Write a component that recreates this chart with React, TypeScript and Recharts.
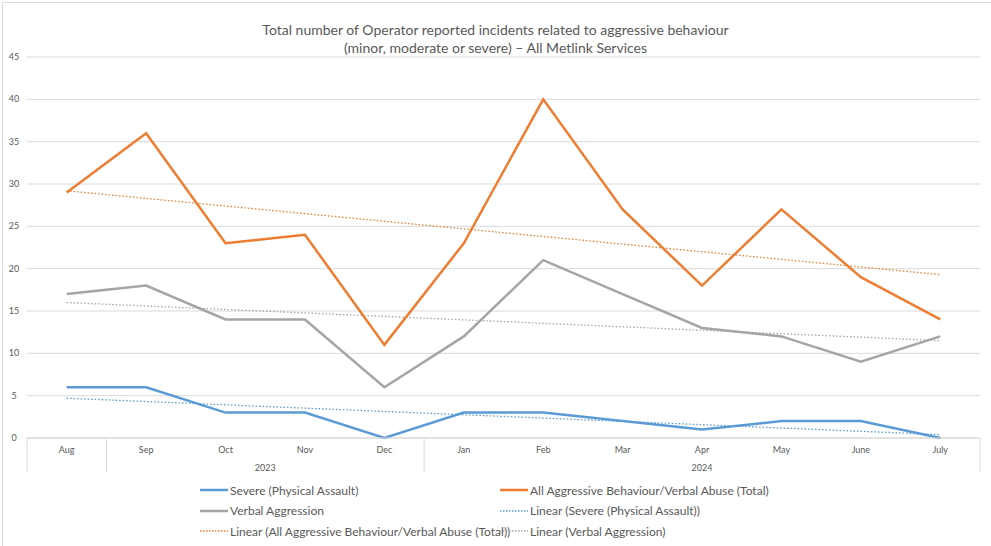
import React from 'react';
import { LineChart, Line, XAxis, YAxis, CartesianGrid, ReferenceLine } from 'recharts';

// Months and the year group each one sits under (Aug has no group label in the source)
const months = ['Aug', 'Sep', 'Oct', 'Nov', 'Dec', 'Jan', 'Feb', 'Mar', 'Apr', 'May', 'June', 'July'];
const years = ['', '2023', '2023', '2023', '2023', '2024', '2024', '2024', '2024', '2024', '2024', '2024'];

const severe = [6, 6, 3, 3, 0, 3, 3, 2, 1, 2, 2, 0];
const total = [29, 36, 23, 24, 11, 23, 40, 27, 18, 27, 19, 14];
const verbal = [17, 18, 14, 14, 6, 12, 21, 17, 13, 12, 9, 12];

// trend line ends [Aug, July]
const severeTrend = [4.7, 0.4];
const totalTrend = [29.2, 19.3];
const verbalTrend = [16.0, 11.5];

const yTicks = [0, 5, 10, 15, 20, 25, 30, 35, 40, 45];

const data = months.map((m, i) => ({
  month: m,
  year: years[i],
  severe: severe[i],
  total: total[i],
  verbal: verbal[i],
}));

const BLUE = '#5b9bd5';
const ORANGE = '#ed7d31';
const GRAY = '#a5a5a5';
const TEXT = '#595959';
const FONT = 'Lato, "Liberation Sans", sans-serif';

const PLOT_LEFT = 27;
const PLOT_RIGHT = 980;
const STEP = (PLOT_RIGHT - PLOT_LEFT) / months.length;

const legendItems = [
  { label: 'Severe (Physical Assault)', color: BLUE, dotted: false },
  { label: 'All Aggressive Behaviour/Verbal Abuse (Total)', color: ORANGE, dotted: false },
  { label: 'Verbal Aggression', color: GRAY, dotted: false },
  { label: 'Linear (Severe (Physical Assault))', color: BLUE, dotted: true },
  { label: 'Linear (All Aggressive Behaviour/Verbal Abuse (Total))', color: ORANGE, dotted: true },
  { label: 'Linear (Verbal Aggression)', color: GRAY, dotted: true },
];

const MonthTick = ({ x, y, payload, index }: any) => {
  const i = index ?? payload.index;
  const left = x - STEP / 2;
  const yr = years[i];
  const groupStart = yr !== '' && (i === 0 || years[i - 1] !== yr);
  let groupLen = 0;
  if (groupStart) {
    while (i + groupLen < years.length && years[i + groupLen] === yr) groupLen++;
  }
  const sep = i === 0 || years[i] !== years[i - 1];
  return (
    <g>
      <text x={x} y={y + 7} textAnchor="middle" fill={TEXT} fontSize={9} fontFamily={FONT}>
        {payload.value}
      </text>
      {sep && <line x1={left} x2={left} y1={y - 8} y2={y + 26} stroke="#d9d9d9" strokeWidth={1} />}
      {i === months.length - 1 && (
        <line x1={x + STEP / 2} x2={x + STEP / 2} y1={y - 8} y2={y + 26} stroke="#d9d9d9" strokeWidth={1} />
      )}
      {groupStart && (
        <text x={left + (groupLen * STEP) / 2} y={y + 25} textAnchor="middle" fill={TEXT} fontSize={9} fontFamily={FONT}>
          {yr}
        </text>
      )}
    </g>
  );
};

const ValueTick = ({ y, payload }: any) => (
  <text x={14} y={y + 3} textAnchor="middle" fill={TEXT} fontSize={9} fontFamily={FONT}>
    {payload.value}
  </text>
);

export default function App() {
  return (
    <div style={{ position: 'absolute', left: 0, top: 0, width: 991, height: 546, background: '#fff', overflow: 'hidden' }}>
      <div style={{ position: 'absolute', left: 2, top: 2, width: 1000, height: 600, border: '1px solid #d9d9d9' }} />
      <div
        style={{
          position: 'absolute',
          left: 0,
          top: 21,
          width: 991,
          textAlign: 'center',
          fontFamily: FONT,
          fontSize: 14,
          lineHeight: '18px',
          color: TEXT,
        }}
      >
        Total number of Operator reported incidents related to aggressive behaviour
        <br />
        (minor, moderate or severe) – All Metlink Services
      </div>
      <div style={{ position: 'absolute', left: 0, top: 0 }}>
        <LineChart width={991} height={546} data={data} margin={{ top: 57, right: 991 - PLOT_RIGHT, bottom: 68, left: 0 }}>
          <CartesianGrid vertical={false} stroke="#d9d9d9" />
          <XAxis
            dataKey="month"
            padding={{ left: STEP / 2, right: STEP / 2 }}
            interval={0}
            tickLine={false}
            axisLine={{ stroke: '#d9d9d9' }}
            tick={<MonthTick />}
            height={40}
          />
          <YAxis
            width={PLOT_LEFT}
            domain={[0, 45]}
            ticks={yTicks}
            interval={0}
            axisLine={false}
            tickLine={false}
            tick={<ValueTick />}
          />
          <ReferenceLine
            segment={[{ x: months[0], y: totalTrend[0] }, { x: months[months.length - 1], y: totalTrend[1] }]}
            stroke={ORANGE}
            strokeWidth={1.3}
            strokeDasharray="1.5 2"
          />
          <ReferenceLine
            segment={[{ x: months[0], y: verbalTrend[0] }, { x: months[months.length - 1], y: verbalTrend[1] }]}
            stroke={GRAY}
            strokeWidth={1.3}
            strokeDasharray="1.5 2"
          />
          <ReferenceLine
            segment={[{ x: months[0], y: severeTrend[0] }, { x: months[months.length - 1], y: severeTrend[1] }]}
            stroke={BLUE}
            strokeWidth={1.3}
            strokeDasharray="1.5 2"
          />
          <Line dataKey="verbal" stroke={GRAY} strokeWidth={2.5} dot={false} isAnimationActive={false} />
          <Line dataKey="total" stroke={ORANGE} strokeWidth={2.5} dot={false} isAnimationActive={false} />
          <Line dataKey="severe" stroke={BLUE} strokeWidth={2.5} dot={false} isAnimationActive={false} />
        </LineChart>
      </div>
      {legendItems.map((item, i) => {
        const col = i % 2;
        const row = Math.floor(i / 2);
        return (
          <div
            key={item.label}
            style={{
              position: 'absolute',
              left: col === 0 ? 200 : 500,
              top: 482 + row * 20.5,
              height: 16,
              display: 'flex',
              alignItems: 'center',
              fontFamily: FONT,
              fontSize: 12,
              color: TEXT,
              whiteSpace: 'nowrap',
            }}
          >
            <svg width={29} height={6} style={{ marginRight: 1 }}>
              <line
                x1={0}
                x2={28}
                y1={3}
                y2={3}
                stroke={item.color}
                strokeWidth={item.dotted ? 1.3 : 2.5}
                strokeDasharray={item.dotted ? '1.5 1.5' : undefined}
              />
            </svg>
            {item.label}
          </div>
        );
      })}
    </div>
  );
}
